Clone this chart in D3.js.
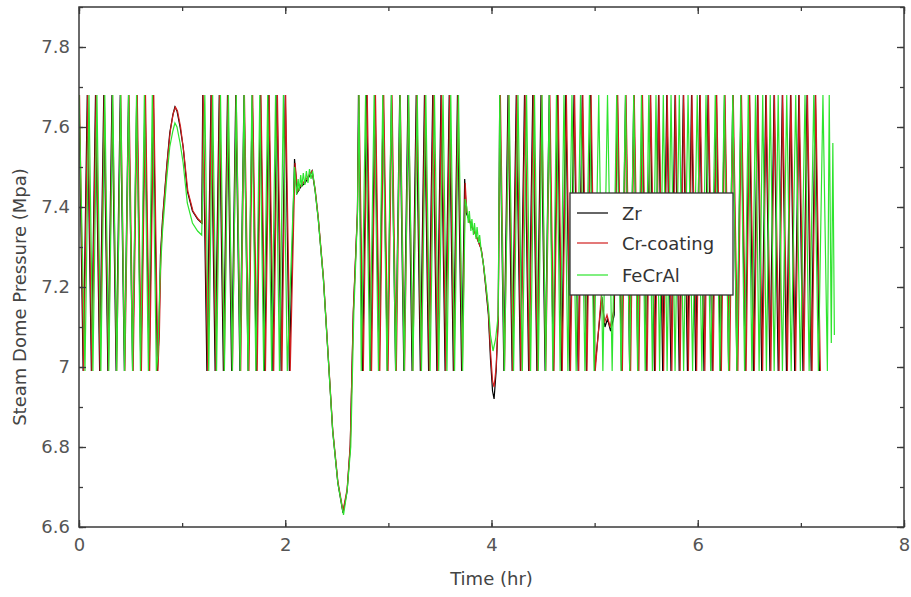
<!DOCTYPE html>
<html>
<head>
<meta charset="utf-8">
<title>Steam Dome Pressure</title>
<script src="https://d3js.org/d3.v7.min.js"></script>
<style>
  body { margin: 0; background: #fff; }
  text { font-family: "DejaVu Sans", sans-serif; }
  .axis path.domain { display: none; }
  .axis line { stroke: #3a3a3a; stroke-width: 1.3; }
  .axis text { fill: #555; font-size: 18px; }
  .series { fill: none; stroke-width: 1.2; }
</style>
</head>
<body>
<script>
// ---------- values ----------
var timeTicks = [0, 2, 4, 6, 8];
var pressureTicks = [6.6, 6.8, 7, 7.2, 7.4, 7.6, 7.8];
var seriesNames = ["Zr", "Cr-coating", "FeCrAl"];
var seriesColors = ["#000000", "#d01e1e", "#2ee42e"];

// relief valve open / close pressure (Mpa)
var valveHigh = 7.68;
var valveLow = 6.99;

// cycling: turning times (hr), alternating high, low, high ...
// curve: [time hr, pressure Mpa]
var zrCycle1 = [0.00,0.04,0.08,0.12,0.16,0.20,0.24,0.28,0.32,0.36,0.40,0.44,0.48,0.52,0.56,0.60,0.64,0.68,0.72,0.76];
var zrCurve1 = [[0.775,7.08],[0.79,7.28],[0.81,7.37],[0.85,7.50],[0.88,7.585],[0.91,7.63],[0.93,7.65],[0.95,7.64],[0.98,7.60],[1.01,7.55],[1.05,7.44],[1.10,7.39],[1.15,7.37],[1.19,7.36]];
var zrCycle2 = [1.20,1.24,1.28,1.32,1.36,1.40,1.44,1.48,1.52,1.56,1.60,1.64,1.68,1.72,1.76,1.80,1.84,1.88,1.92,1.96,2.00,2.04];
var zrCurve2 = [[2.09,7.52],[2.115,7.435],[2.15,7.45],[2.19,7.46],[2.23,7.475],[2.26,7.49],[2.29,7.44],[2.32,7.37],[2.37,7.22],[2.42,7.01],[2.46,6.84],[2.51,6.71],[2.56,6.635],[2.60,6.69],[2.63,6.80],[2.66,7.135],[2.70,7.385]];
var zrCycle3 = [2.71,2.75,2.79,2.83,2.87,2.91,2.95,2.99,3.03,3.07,3.11,3.15,3.19,3.23,3.27,3.31,3.35,3.39,3.43,3.47,3.51,3.55,3.59,3.63,3.67,3.71];
var zrCurve3 = [[3.74,7.47],[3.755,7.385],[3.78,7.37],[3.81,7.35],[3.84,7.335],[3.87,7.315],[3.90,7.295],[3.92,7.26],[3.94,7.21],[3.97,7.13],[3.99,7.02],[4.01,6.94],[4.025,6.92],[4.045,6.99],[4.065,7.12]];
var zrCycle4 = [4.08,4.12,4.16,4.20,4.24,4.28,4.32,4.36,4.40,4.44,4.48,4.52,4.56,4.60,4.64,4.68,4.72,4.76,4.80,4.84,4.88,4.92,4.96,5.00];
var zrCurve4 = [[5.07,7.175],[5.10,7.10],[5.125,7.12],[5.155,7.09],[5.19,7.13]];
var zrCycle5 = [5.22,5.26,5.30,5.34,5.38,5.42,5.46,5.50,5.54,5.58,5.62,5.66,5.70,5.74,5.78,5.82,5.86,5.90,5.94,5.98,6.02,6.06,6.10,6.14,6.18,
                6.22,6.26,6.30,6.34,6.38,6.42,6.46,6.50,6.54,6.58,6.62,6.66,6.70,6.74,6.78,6.82,6.86,6.90,6.94,6.98,7.02,7.06,7.10,7.14,7.18];

var crCycle1 = [0.005,0.045,0.085,0.125,0.165,0.205,0.245,0.285,0.325,0.365,0.405,0.445,0.485,0.525,0.565,0.605,0.645,0.685,0.725,0.765];
var crCurve1 = [[0.78,7.09],[0.795,7.29],[0.815,7.38],[0.855,7.51],[0.885,7.59],[0.915,7.635],[0.935,7.65],[0.955,7.64],[0.985,7.60],[1.015,7.54],[1.055,7.44],[1.105,7.39],[1.155,7.37],[1.195,7.36]];
var crCycle2 = [1.204,1.248,1.284,1.328,1.364,1.408,1.444,1.488,1.524,1.568,1.604,1.648,1.684,1.728,1.764,1.808,1.844,1.888,1.924,1.968,2.004,2.048];
var crCurve2 = [[2.095,7.51],[2.12,7.44],[2.15,7.455],[2.19,7.465],[2.23,7.48],[2.26,7.49],[2.29,7.445],[2.32,7.375],[2.37,7.225],[2.42,7.015],[2.46,6.845],[2.51,6.715],[2.56,6.64],[2.60,6.695],[2.63,6.805],[2.66,7.14],[2.70,7.39]];
var crCycle3 = [2.715,2.757,2.795,2.837,2.875,2.917,2.955,2.997,3.035,3.077,3.115,3.157,3.195,3.237,3.275,3.317,3.355,3.397,3.435,3.477,3.515,3.557,3.595,3.637,3.675,3.717];
var crCurve3 = [[3.745,7.46],[3.76,7.39],[3.78,7.37],[3.81,7.35],[3.84,7.335],[3.87,7.315],[3.90,7.295],[3.92,7.26],[3.94,7.215],[3.97,7.14],[3.99,7.04],[4.01,6.965],[4.025,6.95],[4.045,7.00],[4.065,7.12]];
var crCycle4 = [4.086,4.126,4.166,4.206,4.246,4.286,4.326,4.366,4.406,4.446,4.486,4.526,4.566,4.606,4.646,4.686,4.726,4.766,4.806,4.846,4.886,4.926,4.966,5.006];
var crCurve4 = [[5.065,7.18],[5.095,7.11],[5.12,7.13],[5.15,7.10],[5.185,7.14]];
var crCycle5 = [5.224,5.269,5.304,5.349,5.384,5.429,5.464,5.509,5.544,5.589,5.624,5.669,5.704,5.749,5.784,5.829,5.864,5.909,5.944,5.989,6.024,6.069,6.104,6.149,6.184,
                6.229,6.264,6.309,6.344,6.389,6.424,6.469,6.504,6.549,6.584,6.629,6.664,6.709,6.744,6.789,6.824,6.869,6.904,6.949,6.984,7.029,7.064,7.109,7.144,7.189];

var feCycle1 = [0.00,0.058,0.097,0.135,0.174,0.212,0.25,0.289,0.327,0.366,0.404,0.442,0.481,0.519,0.558,0.596,0.634,0.673,0.711,0.75];
var feCurve1 = [[0.765,7.03],[0.785,7.22],[0.81,7.34],[0.85,7.47],[0.88,7.55],[0.91,7.59],[0.93,7.61],[0.95,7.60],[0.98,7.56],[1.01,7.51],[1.05,7.41],[1.10,7.36],[1.15,7.34],[1.19,7.33]];
var feCycle2 = [1.22,1.258,1.296,1.334,1.372,1.41,1.449,1.487,1.525,1.563,1.601,1.639,1.677,1.715,1.753,1.791,1.83,1.868,1.906,1.944,1.982,2.02];
var feCurve2 = [[2.09,7.50],[2.11,7.43],[2.125,7.47],[2.135,7.44],[2.15,7.48],[2.16,7.45],[2.175,7.485],[2.19,7.455],[2.205,7.49],[2.22,7.46],[2.235,7.495],[2.25,7.47],[2.265,7.49],[2.29,7.44],[2.32,7.37],[2.37,7.22],[2.42,7.01],[2.46,6.84],[2.51,6.71],[2.565,6.63],[2.60,6.69],[2.635,6.80],[2.665,7.135],[2.70,7.38]];
var feCycle3 = [2.715,2.737,2.779,2.82,2.862,2.904,2.946,2.987,3.029,3.071,3.113,3.154,3.196,3.238,3.28,3.321,3.363,3.405,3.447,3.488,3.53,3.568,3.605,3.642,3.68,3.72];
var feCurve3 = [[3.745,7.42],[3.76,7.40],[3.775,7.36],[3.785,7.39],[3.80,7.34],[3.81,7.37],[3.825,7.33],[3.835,7.36],[3.85,7.32],[3.86,7.35],[3.875,7.31],[3.885,7.33],[3.90,7.29],[3.92,7.26],[3.94,7.22],[3.97,7.15],[3.99,7.08],[4.015,7.04],[4.04,7.07],[4.065,7.13]];
var feCycle4 = [4.08,4.125,4.17,4.214,4.257,4.299,4.34,4.379,4.417,4.454,4.49,4.525,4.56,4.595,4.63,4.666,4.703,4.741,4.78,4.821,4.863,4.906,4.95,4.995,5.04,
                5.08,5.125,5.17,5.214,5.257,5.299,5.34,5.379,5.417,5.454,5.49,5.525,5.56,5.595,5.63,5.666,5.703,5.741,5.78,5.821,5.863,5.906,5.95,5.995,6.04,
                6.08,6.125,6.17,6.214,6.257,6.299,6.34,6.379,6.417,6.454,6.49,6.525,6.56,6.595,6.63,6.666,6.703,6.741,6.78,6.821,6.863,6.906,6.95,6.995,7.04,
                7.08,7.125,7.17,7.214,7.257];
var feCurve4 = [[7.275,7.68],[7.295,7.06],[7.31,7.56],[7.325,7.08]];

var zrParts = [["cycle",zrCycle1],["curve",zrCurve1],["cycle",zrCycle2],["curve",zrCurve2],["cycle",zrCycle3],["curve",zrCurve3],["cycle",zrCycle4],["curve",zrCurve4],["cycle",zrCycle5]];
var crParts = [["cycle",crCycle1],["curve",crCurve1],["cycle",crCycle2],["curve",crCurve2],["cycle",crCycle3],["curve",crCurve3],["cycle",crCycle4],["curve",crCurve4],["cycle",crCycle5]];
var feParts = [["cycle",feCycle1],["curve",feCurve1],["cycle",feCycle2],["curve",feCurve2],["cycle",feCycle3],["curve",feCurve3],["cycle",feCycle4],["curve",feCurve4]];

// ---------- layout ----------
var width = 911, height = 597;
var plot = {left: 79, right: 904, top: 7, bottom: 527};

var svg = d3.select("body").append("svg")
  .attr("width", width)
  .attr("height", height);

var x = d3.scaleLinear().domain([0, 8]).range([plot.left, plot.right]);
var y = d3.scaleLinear().domain([6.6, 7.9]).range([plot.bottom, plot.top]);

function buildPoints(parts) {
  var pts = [];
  parts.forEach(function(p) {
    if (p[0] == "cycle") {
      p[1].forEach(function(t, i) { pts.push([t, i % 2 == 0 ? valveHigh : valveLow]); });
    } else {
      p[1].forEach(function(d) { pts.push(d); });
    }
  });
  return pts;
}
var allSeries = [buildPoints(zrParts), buildPoints(crParts), buildPoints(feParts)];

svg.append("clipPath").attr("id", "clip")
  .append("rect")
  .attr("x", plot.left).attr("y", plot.top)
  .attr("width", plot.right - plot.left).attr("height", plot.bottom - plot.top);

var line = d3.line()
  .x(function(d) { return x(d[0]); })
  .y(function(d) { return y(d[1]); });

svg.append("g").attr("clip-path", "url(#clip)")
  .selectAll("path")
  .data(allSeries)
  .enter()
  .append("path")
  .attr("class", "series")
  .attr("d", line)
  .attr("stroke", function(d, i) { return seriesColors[i]; });

// ---------- axes (ticks point inward) ----------
var minorX = d3.range(0, 8.01, 1);
var minorY = d3.range(6.6, 7.91, 0.1);

svg.append("g").attr("class", "axis")
  .attr("transform", "translate(0," + plot.bottom + ")")
  .call(d3.axisBottom(x).tickValues(minorX).tickSize(-4).tickFormat(""));
svg.append("g").attr("class", "axis")
  .attr("transform", "translate(0," + plot.bottom + ")")
  .call(d3.axisBottom(x).tickValues(timeTicks).tickSize(-7).tickPadding(11).tickFormat(d3.format("d")));
svg.append("g").attr("class", "axis")
  .attr("transform", "translate(0," + plot.top + ")")
  .call(d3.axisTop(x).tickValues(minorX).tickSize(-4).tickFormat(""));
svg.append("g").attr("class", "axis")
  .attr("transform", "translate(0," + plot.top + ")")
  .call(d3.axisTop(x).tickValues(timeTicks).tickSize(-7).tickFormat(""));

svg.append("g").attr("class", "axis")
  .attr("transform", "translate(" + plot.left + ",0)")
  .call(d3.axisLeft(y).tickValues(minorY).tickSize(-4).tickFormat(""));
svg.append("g").attr("class", "axis")
  .attr("transform", "translate(" + plot.left + ",0)")
  .call(d3.axisLeft(y).tickValues(pressureTicks).tickSize(-7).tickPadding(9).tickFormat(function(d) { return d == 7 ? "7" : d3.format(".1f")(d); }));
svg.append("g").attr("class", "axis")
  .attr("transform", "translate(" + plot.right + ",0)")
  .call(d3.axisRight(y).tickValues(minorY).tickSize(-4).tickFormat(""));
svg.append("g").attr("class", "axis")
  .attr("transform", "translate(" + plot.right + ",0)")
  .call(d3.axisRight(y).tickValues(pressureTicks).tickSize(-7).tickFormat(""));

// frame
svg.append("rect")
  .attr("x", plot.left).attr("y", plot.top)
  .attr("width", plot.right - plot.left).attr("height", plot.bottom - plot.top)
  .attr("fill", "none").attr("stroke", "#3a3a3a").attr("stroke-width", 1.5);

// titles
svg.append("text")
  .attr("x", (plot.left + plot.right) / 2).attr("y", 585)
  .attr("text-anchor", "middle")
  .attr("font-size", "18px").attr("fill", "#444")
  .text("Time (hr)");
svg.append("text")
  .attr("transform", "translate(26,297) rotate(-90)")
  .attr("text-anchor", "middle")
  .attr("font-size", "18px").attr("fill", "#444")
  .text("Steam Dome Pressure (Mpa)");

// legend
var legend = svg.append("g").attr("transform", "translate(570,193)");
legend.append("rect")
  .attr("width", 163).attr("height", 102)
  .attr("fill", "#fff").attr("stroke", "#333").attr("stroke-width", 1.3);
var entry = legend.selectAll("g.entry")
  .data(seriesNames)
  .enter()
  .append("g")
  .attr("class", "entry")
  .attr("transform", function(d, i) { return "translate(0," + [20, 50, 82][i] + ")"; });
entry.append("line")
  .attr("x1", 7).attr("x2", 38)
  .attr("stroke", function(d, i) { return seriesColors[i]; })
  .attr("stroke-width", 1.2);
entry.append("text")
  .attr("x", 52).attr("y", 6.5)
  .attr("font-size", "18px").attr("fill", "#333")
  .text(function(d) { return d; });
</script>
</body>
</html>
